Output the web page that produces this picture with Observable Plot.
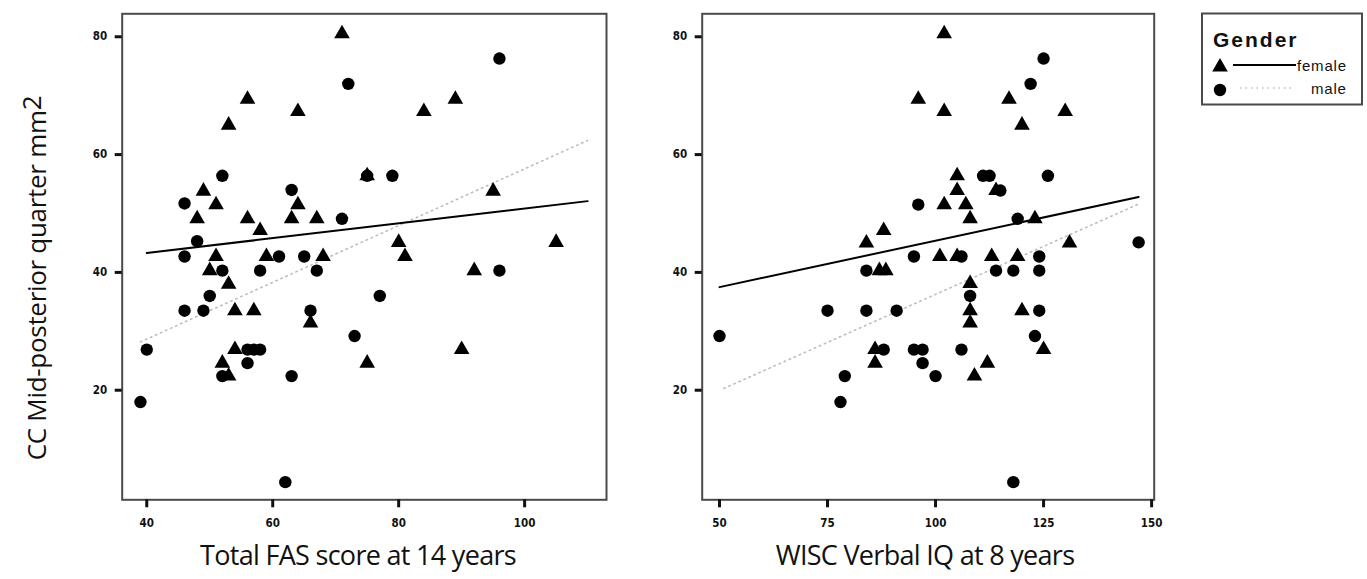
<!DOCTYPE html>
<html>
<head>
<meta charset="utf-8">
<script src="https://cdn.jsdelivr.net/npm/d3@7"></script>
<script src="https://cdn.jsdelivr.net/npm/@observablehq/plot@0.6"></script>
<style>
  body { margin: 0; background: #fff; }
  #wrap { position: relative; width: 1367px; height: 579px; overflow: hidden; background: #fff; }
  .panel { position: absolute; top: 0; }
  .xtitle { position: absolute; top: 536px; font-family: "Open Sans", sans-serif; font-size: 27px; color: #111;
            white-space: nowrap; transform: translateX(-50%); letter-spacing: -0.7px; }
  .ytitle { position: absolute; left: 36px; top: 278px; font-family: "Open Sans", sans-serif; font-size: 26px; color: #111;
            white-space: nowrap; transform: translate(-50%, -50%) rotate(-90deg); letter-spacing: -0.3px; }
  .ytitle .sup { position: relative; top: -5px; }
  #legend { position: absolute; left: 1200px; top: 12px; }
</style>
</head>
<body>
<div id="wrap">
  <div id="left" class="panel" style="left:0px"></div>
  <div id="right" class="panel" style="left:640px"></div>
  <div class="ytitle">CC Mid-posterior quarter mm<span class="sup">2</span></div>
  <div class="xtitle" style="left:358px">Total FAS score at 14 years</div>
  <div class="xtitle" style="left:925px">WISC Verbal IQ at 8 years</div>
  <div id="legend"></div>
</div>
<script>
// ---- tick labels ----
const ccTicks = [20, 40, 60, 80];
const fasTicks = [40, 60, 80, 100];
const iqTicks = [50, 75, 100, 125, 150];

// ---- left panel: Total FAS score at 14 years ----
const fasFemale = [71, 56, 64, 89, 84, 53, 75, 49, 95, 51, 64, 48, 56, 63, 67, 58, 80, 105, 51, 59, 68, 81, 50, 92, 53, 54, 57, 66, 54, 90, 52, 75, 53];
const ccFemaleFAS = [80.5, 69.4, 67.3, 69.4, 67.3, 65, 56.4, 53.8, 53.8, 51.5, 51.5, 49.1, 49.1, 49.1, 49.1, 47.1, 45.1, 45.1, 42.7, 42.7, 42.7, 42.7, 40.3, 40.3, 38, 33.5, 33.5, 31.4, 26.9, 26.9, 24.6, 24.6, 22.4];
const fasMale = [96, 72, 52, 75, 79, 63, 46, 71, 48, 46, 61, 65, 52, 58, 67, 96, 50, 77, 46, 49, 66, 73, 40, 56, 57, 58, 56, 52, 63, 39, 62];
const ccMaleFAS = [76.3, 72, 56.4, 56.4, 56.4, 54, 51.7, 49.1, 45.3, 42.7, 42.7, 42.7, 40.3, 40.3, 40.3, 40.3, 36, 36, 33.5, 33.5, 33.5, 29.2, 26.9, 26.9, 26.9, 26.9, 24.6, 22.4, 22.4, 18, 4.4];
const fasFemaleFitX = [40, 110];
const fasFemaleFitY = [43.3, 52.1];
const fasMaleFitX = [39, 110];
const fasMaleFitY = [28.2, 62.4];

// ---- right panel: WISC Verbal IQ at 8 years ----
const iqFemale = [102, 96, 117, 102, 130, 120, 105, 105, 114, 102, 107, 108, 123, 88, 84, 131, 101, 105, 113, 119, 87, 88.5, 108, 108, 120, 108, 86, 125, 86, 112, 109];
const ccFemaleIQ = [80.5, 69.4, 69.4, 67.3, 67.3, 65, 56.4, 53.9, 53.9, 51.5, 51.5, 49.1, 49.1, 47.1, 45, 45, 42.7, 42.7, 42.7, 42.7, 40.3, 40.3, 38.1, 33.5, 33.5, 31.4, 26.9, 26.9, 24.6, 24.6, 22.4];
const iqMale = [125, 122, 111, 112.5, 126, 115, 96, 119, 147, 95, 106, 124, 84, 114, 118, 124, 108, 75, 84, 91, 124, 50, 123, 88, 95, 97, 106, 97, 79, 100, 78, 118];
const ccMaleIQ = [76.3, 72, 56.4, 56.4, 56.4, 53.9, 51.5, 49.1, 45.1, 42.7, 42.7, 42.7, 40.3, 40.3, 40.3, 40.3, 36, 33.5, 33.5, 33.5, 33.5, 29.2, 29.2, 26.9, 26.9, 26.9, 26.9, 24.6, 22.4, 22.4, 18, 4.4];
const iqFemaleFitX = [50, 147];
const iqFemaleFitY = [37.5, 52.8];
const iqMaleFitX = [51, 147];
const iqMaleFitY = [20.3, 51.6];

const genders = ["female", "male"];

const pts = (xs, ys) => xs.map((x, i) => ({x, y: ys[i]}));
const yDomain = [1.4, 83.9];
const tickFont = {fontFamily: "'Liberation Sans Narrow', 'Arial Narrow', 'DejaVu Sans Condensed', sans-serif", fontSize: 11.5, fontWeight: "bold"};
const maleStroke = "#bdbdbd";

function panel({width, marginLeft, marginRight, xDomain, xTicks, fX, fY, mX, mY, fLX, fLY, mLX, mLY}) {
  return Plot.plot({
    width, height: 540,
    marginLeft, marginRight, marginTop: 13.3, marginBottom: 40.7,
    x: {domain: xDomain, label: null},
    y: {domain: yDomain, label: null},
    style: {background: "transparent", color: "#111", overflow: "visible"},
    marks: [
      Plot.frame({stroke: "#4a4a4a", strokeWidth: 2}),
      Plot.axisY(ccTicks, {tickSize: 7, tickPadding: 8, strokeWidth: 3, label: null, ...tickFont}),
      Plot.axisX(xTicks, {tickSize: 8, tickPadding: 11, strokeWidth: 3, label: null, ...tickFont}),
      Plot.line(pts(mLX, mLY), {x: "x", y: "y", stroke: maleStroke, strokeWidth: 1.6, strokeDasharray: "1.5,4"}),
      Plot.line(pts(fLX, fLY), {x: "x", y: "y", stroke: "#000", strokeWidth: 2}),
      Plot.dot(pts(mX, mY), {x: "x", y: "y", symbol: "circle", r: 6.2, fill: "#000"}),
      Plot.dot(pts(fX, fY), {x: "x", y: "y", symbol: "triangle", r: 5.8, fill: "#000"})
    ]
  });
}

document.getElementById("left").append(panel({
  width: 620, marginLeft: 121.7, marginRight: 14, xDomain: [36.1, 113.0], xTicks: fasTicks,
  fX: fasFemale, fY: ccFemaleFAS, mX: fasMale, mY: ccMaleFAS,
  fLX: fasFemaleFitX, fLY: fasFemaleFitY, mLX: fasMaleFitX, mLY: fasMaleFitY
}));

document.getElementById("right").append(panel({
  width: 530, marginLeft: 61.7, marginRight: 16.3, xDomain: [46.0, 150.6], xTicks: iqTicks,
  fX: iqFemale, fY: ccFemaleIQ, mX: iqMale, mY: ccMaleIQ,
  fLX: iqFemaleFitX, fLY: iqFemaleFitY, mLX: iqMaleFitX, mLY: iqMaleFitY
}));

// ---- legend ----
const lg = d3.select("#legend").append("svg").attr("width", 166).attr("height", 96);
lg.append("rect").attr("x", 2).attr("y", 1.5).attr("width", 160).attr("height", 91)
  .attr("fill", "#fff").attr("stroke", "#4a4a4a").attr("stroke-width", 2);
lg.append("text").attr("x", 13).attr("y", 35).text("Gender")
  .attr("font-family", "'Liberation Sans', Arial, sans-serif").attr("font-weight", "bold")
  .attr("font-size", 21).attr("letter-spacing", 2).attr("fill", "#111");
const rows = [
  {sym: d3.symbolTriangle, area: Math.PI * 5.8 * 5.8, y: 55, dash: null, stroke: "#000", lx1: 33, lx2: 96, tx: 97},
  {sym: d3.symbolCircle, area: Math.PI * 6.2 * 6.2, y: 78, dash: "1.5,4", stroke: maleStroke, lx1: 40, lx2: 94, tx: 111}
];
rows.forEach((r, i) => {
  lg.append("path").attr("d", d3.symbol(r.sym, r.area)()).attr("transform", `translate(20,${r.y})`).attr("fill", "#000");
  lg.append("line").attr("x1", r.lx1).attr("x2", r.lx2).attr("y1", r.y - 2).attr("y2", r.y - 2)
    .attr("stroke", r.stroke).attr("stroke-width", i === 0 ? 1.8 : 1.6).attr("stroke-dasharray", r.dash);
  lg.append("text").attr("x", r.tx).attr("y", r.y + 4).text(genders[i])
    .attr("font-family", "'Liberation Sans', Arial, sans-serif").attr("font-size", 15)
    .attr("letter-spacing", 0.8).attr("fill", "#111");
});
</script>
</body>
</html>
